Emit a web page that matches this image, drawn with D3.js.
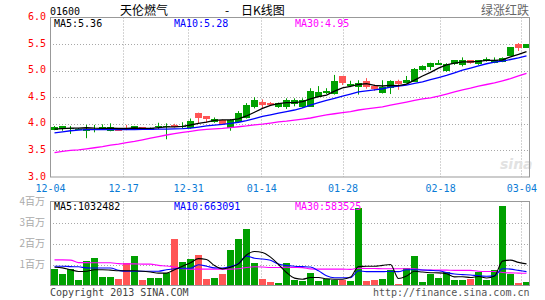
<!DOCTYPE html>
<html>
<head>
<meta charset="utf-8">
<script src="https://cdn.jsdelivr.net/npm/d3@7"></script>
<style>
  body { margin: 0; background: #fff; }
  text { font-family: "DejaVu Sans Mono", monospace; font-size: 10px; }
  .cjk { font-family: "Noto Sans CJK SC", sans-serif; }
</style>
</head>
<body>
<div id="chart"></div>
<script>
// trading days shown (HK calendar)
const dates = ["12-04","12-05","12-06","12-07","12-10","12-11","12-12","12-13","12-14","12-17",
  "12-18","12-19","12-20","12-21","12-24","12-27","12-28","12-31","01-02","01-03",
  "01-04","01-07","01-08","01-09","01-10","01-11","01-14","01-15","01-16","01-17",
  "01-18","01-21","01-22","01-23","01-24","01-25","01-28","01-29","01-30","01-31",
  "02-01","02-04","02-05","02-06","02-07","02-08","02-14","02-15","02-18","02-19",
  "02-20","02-21","02-22","02-25","02-26","02-27","02-28","03-01","03-04","03-05"];
const tickDates = ["12-04","12-17","12-31","01-14","01-28","02-18","03-04"];

const open = [3.89,3.90,3.91,3.90,3.86,3.875,3.90,3.86,3.91,3.905,
  3.90,3.94,3.89,3.96,3.955,3.975,3.95,3.92,4.21,4.14,
  4.04,4.07,3.92,4.04,4.11,4.31,4.41,4.385,4.31,4.31,
  4.36,4.32,4.32,4.50,4.58,4.56,4.90,4.71,4.69,4.81,
  4.71,4.59,4.67,4.80,4.77,4.79,5.01,5.07,5.12,4.98,
  5.12,5.10,5.20,5.12,5.18,5.15,5.17,5.28,5.50,5.43];
const high = [3.96,3.96,3.96,3.92,3.98,3.98,3.99,4.01,3.92,3.98,
  3.96,3.94,3.93,4.02,4.01,4.00,4.03,4.10,4.21,4.14,
  4.12,4.08,4.09,4.24,4.39,4.50,4.46,4.41,4.40,4.48,
  4.48,4.48,4.67,4.71,4.67,4.92,4.90,4.81,4.82,4.86,
  4.74,4.82,4.82,4.83,4.90,5.05,5.10,5.15,5.20,5.14,
  5.20,5.25,5.20,5.20,5.25,5.25,5.25,5.44,5.52,5.50];
const low = [3.88,3.87,3.81,3.89,3.73,3.84,3.89,3.86,3.87,3.88,
  3.90,3.91,3.89,3.90,3.71,3.93,3.92,3.91,4.01,4.02,
  4.02,3.99,3.87,4.02,4.10,4.29,4.28,4.34,4.30,4.28,
  4.33,4.30,4.32,4.50,4.56,4.55,4.73,4.69,4.55,4.66,
  4.62,4.57,4.56,4.64,4.76,4.79,5.00,5.01,5.11,4.98,
  5.11,5.08,5.13,5.11,5.17,5.14,5.16,5.28,5.37,5.43];
const close = [3.94,3.95,3.93,3.91,3.90,3.90,3.94,3.94,3.88,3.90,
  3.95,3.91,3.925,3.965,3.965,3.94,3.96,4.06,4.12,4.09,
  4.10,4.00,4.07,4.21,4.36,4.45,4.36,4.35,4.39,4.45,
  4.44,4.45,4.62,4.59,4.61,4.81,4.76,4.75,4.77,4.69,
  4.65,4.70,4.81,4.75,4.82,5.03,5.09,5.15,5.15,5.12,
  5.20,5.20,5.15,5.20,5.22,5.20,5.24,5.44,5.43,5.50];

const ma5 = [3.90,3.91,3.92,3.92,3.926,3.918,3.916,3.918,3.912,3.912,
  3.922,3.916,3.913,3.93,3.943,3.941,3.951,3.978,4.009,4.034,
  4.066,4.074,4.076,4.094,4.148,4.218,4.29,4.346,4.382,4.40,
  4.398,4.416,4.47,4.51,4.542,4.616,4.678,4.704,4.74,4.756,
  4.724,4.712,4.724,4.72,4.746,4.822,4.90,4.968,5.048,5.108,
  5.142,5.164,5.164,5.174,5.194,5.194,5.202,5.26,5.306,5.36];
const ma10 = [3.83,3.85,3.87,3.88,3.89,3.89,3.89,3.89,3.89,3.89,
  3.89,3.895,3.895,3.90,3.90,3.905,3.91,3.92,3.94,3.96,
  3.975,3.99,4.01,4.03,4.06,4.10,4.14,4.17,4.20,4.23,
  4.26,4.30,4.35,4.40,4.44,4.48,4.52,4.56,4.60,4.62,
  4.64,4.66,4.69,4.71,4.73,4.76,4.79,4.83,4.87,4.91,
  4.96,5.01,5.05,5.09,5.13,5.16,5.18,5.21,5.24,5.28];
const ma30 = [3.46,3.48,3.50,3.51,3.53,3.55,3.57,3.60,3.62,3.645,
  3.67,3.70,3.73,3.76,3.79,3.815,3.84,3.86,3.88,3.895,
  3.905,3.915,3.93,3.945,3.96,3.98,3.995,4.015,4.035,4.05,
  4.07,4.09,4.11,4.14,4.17,4.19,4.21,4.23,4.26,4.28,
  4.30,4.32,4.35,4.38,4.41,4.44,4.47,4.49,4.52,4.56,
  4.60,4.64,4.67,4.71,4.74,4.77,4.81,4.85,4.90,4.95];

// volume, millions of shares
const volume = [0.79,0.56,0.79,0.24,1.18,1.32,0.41,0.41,0.32,1.06,
  1.41,0.27,0.37,0.37,0.59,2.22,1.13,1.27,1.46,0.32,
  0.37,0.56,1.70,2.22,2.70,1.08,0.32,0.18,0.13,1.08,
  0.27,0.22,0.60,0.22,0.32,0.27,0.27,0.22,3.70,0.22,
  0.27,0.32,0.75,0.08,0.84,1.41,0.18,0.56,0.37,0.65,
  0.27,0.27,0.32,0.65,0.27,0.75,3.80,0.56,0.13,0.18];
const volMa5 = [0.87,0.84,0.75,0.67,0.68,0.75,0.75,0.73,0.70,0.70,
  0.70,0.68,0.64,0.59,0.59,0.75,0.92,1.08,1.28,1.24,
  0.95,0.79,0.87,1.03,1.45,1.62,1.57,1.35,1.00,0.62,
  0.35,0.30,0.38,0.38,0.32,0.30,0.30,0.40,0.90,0.92,
  0.92,0.96,1.00,0.33,0.45,0.68,0.64,0.61,0.60,0.56,
  0.41,0.42,0.38,0.43,0.36,0.45,1.16,1.21,1.10,1.03];
const volMa10 = [0.92,0.92,0.90,0.89,0.84,0.83,0.83,0.83,0.72,0.68,
  0.68,0.68,0.68,0.68,0.75,0.80,0.82,0.82,0.99,0.92,
  0.84,0.83,0.90,1.05,1.40,1.30,1.26,1.20,1.02,0.95,
  0.92,0.90,0.88,0.70,0.46,0.37,0.37,0.37,0.70,0.66,
  0.66,0.66,0.68,0.66,0.75,0.75,0.74,0.72,0.70,0.62,
  0.55,0.52,0.50,0.46,0.44,0.46,0.80,0.78,0.72,0.66];
const volMa30 = [1.22,1.22,1.21,1.09,1.09,1.08,1.08,1.08,1.04,1.03,
  1.03,1.02,1.02,0.96,0.93,0.88,0.80,0.78,0.78,0.78,
  0.78,0.78,0.78,0.80,0.86,0.89,0.88,0.86,0.86,0.87,
  0.86,0.85,0.79,0.78,0.78,0.78,0.78,0.77,0.82,0.81,
  0.81,0.80,0.80,0.80,0.80,0.80,0.74,0.73,0.73,0.73,
  0.72,0.72,0.72,0.68,0.67,0.67,0.62,0.60,0.59,0.58];

const priceTicks = [3.0, 3.5, 4.0, 4.5, 5.0, 5.5, 6.0];
const volTicks = [1, 2, 3, 4];
const priceLegend = ["MA5:5.36", "MA10:5.28", "MA30:4.95"];
const volLegend = ["MA5:1032482", "MA10:663091", "MA30:583525"];

const width = 545;
const height = 300;
const left = 50;
const right = 529.5;
const priceTop = 17.5;
const priceBottom = 177;
const volTop = 201.5;
const volBottom = 285.5;

const green = "#00a000";
const red = "#ff5555";
const gridColor = "#a8a8a8";
const frameColor = "#999";
const maColors = ["#000000", "#0000ff", "#ff00ff"];

const svg = d3
  .select("#chart")
  .append("svg")
  .attr("width", width)
  .attr("height", height)
  .style("display", "block");

const idx = d3.range(dates.length);

const x = d3
  .scaleBand()
  .domain(idx)
  .range([50, 530])
  .paddingInner(0.15)
  .paddingOuter(0.075);
const bw = x.bandwidth();
const cx = (i) => Math.round(x(i) + bw / 2) + 0.5;

// grid / label positions (spread over the frame, not the bars)
const xGrid = d3.scaleLinear().domain([0, dates.length - 1]).range([left, right]);
const tickIdx = tickDates.map((d) => dates.indexOf(d));

const y = d3.scaleLinear().domain([3, 6]).range([priceBottom, priceTop]);
const yVol = d3.scaleLinear().domain([0, 4]).range([volBottom, volTop]);

// ---------- title row ----------
svg.append("text").attr("x", 50).attr("y", 15).text("01600");
svg.append("text").attr("class", "cjk").attr("x", 120).attr("y", 15)
  .style("font-size", "12px").text("天伦燃气");
svg.append("text").attr("class", "cjk").attr("x", 225).attr("y", 15)
  .style("font-size", "12px").text("-");
svg.append("text").attr("class", "cjk").attr("x", 241).attr("y", 15)
  .style("font-size", "12px").text("日K线图");
svg.append("text").attr("class", "cjk").attr("x", 529).attr("y", 15)
  .attr("text-anchor", "end").attr("fill", "#666")
  .style("font-size", "12px").text("绿涨红跌");

// ---------- grids ----------
function drawGrid(g, yScale, yValues, top, bottom) {
  g.selectAll("line.h")
    .data(yValues)
    .enter()
    .append("line")
    .attr("class", "h")
    .attr("x1", left)
    .attr("x2", right)
    .attr("y1", (d) => Math.round(yScale(d)) + 0.5)
    .attr("y2", (d) => Math.round(yScale(d)) + 0.5);

  g.selectAll("line.v")
    .data(tickIdx.slice(1))
    .enter()
    .append("line")
    .attr("class", "v")
    .attr("x1", (i) => Math.round(xGrid(i)) + 0.5)
    .attr("x2", (i) => Math.round(xGrid(i)) + 0.5)
    .attr("y1", top)
    .attr("y2", bottom);

  g.selectAll("line")
    .attr("stroke", gridColor)
    .attr("stroke-width", 1)
    .attr("stroke-dasharray", "1,2");
}

drawGrid(svg.append("g"), y, [3.5, 4.0, 4.5, 5.0, 5.5], priceTop, priceBottom);
drawGrid(svg.append("g"), yVol, [1, 2, 3], volTop, volBottom);

// watermark
svg.append("text")
  .attr("x", 500)
  .attr("y", 169)
  .attr("fill", "#e2e2e2")
  .style("font-family", "DejaVu Sans")
  .style("font-size", "14px")
  .style("font-style", "italic")
  .style("font-weight", "bold")
  .text("sina");

// ---------- price panel ----------
const candles = svg.append("g");

candles
  .selectAll("line")
  .data(idx)
  .enter()
  .append("line")
  .attr("x1", cx)
  .attr("x2", cx)
  .attr("y1", (i) => y(high[i]))
  .attr("y2", (i) => y(low[i]))
  .attr("stroke", (i) => (close[i] >= open[i] ? green : red))
  .attr("stroke-width", 1);

candles
  .selectAll("rect")
  .data(idx)
  .enter()
  .append("rect")
  .attr("x", (i) => Math.round(x(i)))
  .attr("width", Math.round(bw))
  .attr("y", (i) => Math.round(y(Math.max(open[i], close[i]))))
  .attr("height", (i) =>
    Math.max(1, Math.round(Math.abs(y(open[i]) - y(close[i]))))
  )
  .attr("fill", (i) => (close[i] >= open[i] ? green : red))
  .attr("shape-rendering", "crispEdges");

const priceLine = (arr) =>
  d3.line().x((i) => cx(i)).y((i) => y(arr[i]))(idx);

[ma30, ma10, ma5].forEach((arr, k) => {
  svg.append("path")
    .attr("d", priceLine(arr))
    .attr("fill", "none")
    .attr("stroke", maColors[2 - k])
    .attr("stroke-width", 1.3);
});

// ---------- volume panel ----------
svg.append("g")
  .selectAll("rect")
  .data(idx)
  .enter()
  .append("rect")
  .attr("x", (i) => Math.round(x(i)))
  .attr("width", Math.round(bw))
  .attr("y", (i) => Math.round(yVol(volume[i])))
  .attr("height", (i) => Math.round(volBottom) - Math.round(yVol(volume[i])))
  .attr("fill", (i) => (close[i] >= open[i] ? green : red))
  .attr("shape-rendering", "crispEdges");

const volLine = (arr) =>
  d3.line().curve(d3.curveMonotoneX).x((i) => cx(i)).y((i) => yVol(arr[i]))(idx);

[volMa30, volMa10, volMa5].forEach((arr, k) => {
  svg.append("path")
    .attr("d", volLine(arr))
    .attr("fill", "none")
    .attr("stroke", maColors[2 - k])
    .attr("stroke-width", 1.1);
});

// ---------- frames ----------
[[priceTop, priceBottom], [volTop, volBottom]].forEach(([t, b]) => {
  svg.append("rect")
    .attr("x", left + 0.5)
    .attr("y", t)
    .attr("width", right - left - 0.5)
    .attr("height", b - t)
    .attr("fill", "none")
    .attr("stroke", frameColor)
    .attr("stroke-width", 1);
});

// ---------- axes ----------
const yAxis = svg.append("g")
  .attr("transform", `translate(${left},0)`)
  .call(d3.axisLeft(y).tickValues(priceTicks).tickFormat(d3.format(".1f")).tickSize(0).tickPadding(4));
yAxis.select(".domain").remove();
yAxis.selectAll("text")
  .attr("fill", "#ff0000")
  .attr("dy", "0.2em")
  .style("font-family", "DejaVu Sans Mono")
  .style("font-size", "10px");

const xAxis = svg.append("g")
  .attr("transform", `translate(0,${priceBottom})`)
  .call(d3.axisBottom(xGrid).tickValues(tickIdx).tickFormat((i) => dates[i]).tickSize(0).tickPadding(8));
xAxis.select(".domain").remove();
xAxis.selectAll("text")
  .attr("fill", "#0a7bd6")
  .style("font-family", "DejaVu Sans Mono")
  .style("font-size", "10px");

const vAxis = svg.append("g")
  .attr("transform", `translate(${left},0)`)
  .call(d3.axisLeft(yVol).tickValues(volTicks).tickFormat((d) => d + "百万").tickSize(0).tickPadding(5));
vAxis.select(".domain").remove();
vAxis.selectAll("text")
  .attr("fill", "#aaaaaa")
  .style("font-family", "Noto Sans CJK SC")
  .style("font-size", "10px");

// ---------- legends ----------
const legendX = [54, 174, 295];
svg.append("g")
  .selectAll("text")
  .data(priceLegend)
  .enter()
  .append("text")
  .attr("x", (_, i) => legendX[i])
  .attr("y", 27)
  .attr("fill", (_, i) => maColors[i])
  .text((d) => d);

svg.append("g")
  .selectAll("text")
  .data(volLegend)
  .enter()
  .append("text")
  .attr("x", (_, i) => legendX[i])
  .attr("y", 210)
  .attr("fill", (_, i) => maColors[i])
  .text((d) => d);

// ---------- footer ----------
svg.append("text").attr("x", 50).attr("y", 296).attr("fill", "#444")
  .text("Copyright 2013 SINA.COM");
svg.append("text").attr("x", 529.5).attr("y", 296).attr("fill", "#555")
  .attr("text-anchor", "end").text("http://finance.sina.com.cn");
</script>
</body>
</html>
